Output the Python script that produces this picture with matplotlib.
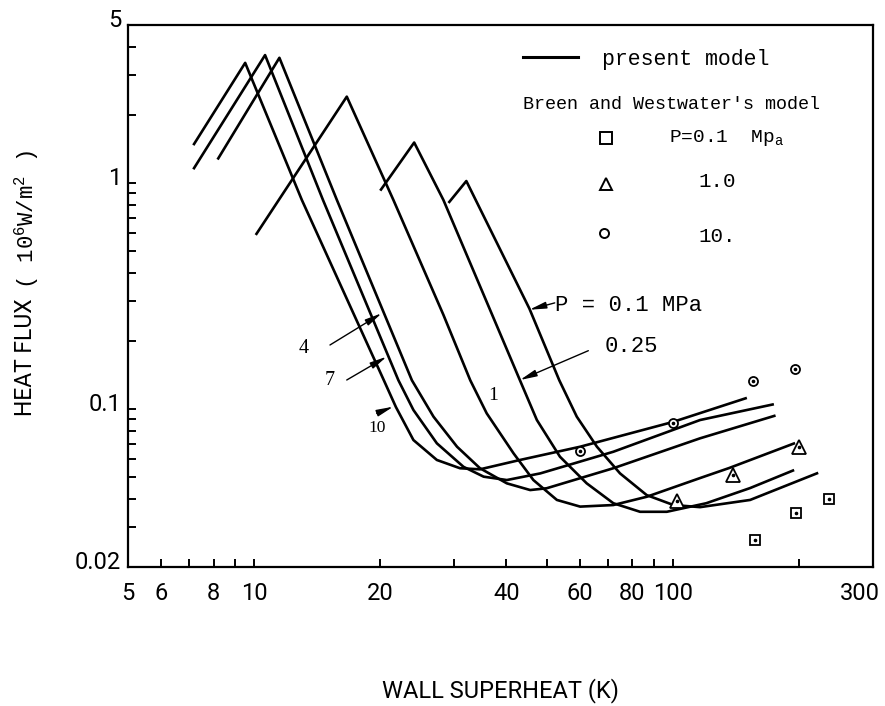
import matplotlib
matplotlib.use("Agg")
import matplotlib.pyplot as plt
from matplotlib.ticker import FixedLocator, FixedFormatter, NullFormatter
from matplotlib.transforms import ScaledTranslation

plt.rcParams['mathtext.fontset'] = 'custom'
plt.rcParams['mathtext.rm'] = 'Liberation Mono'
plt.rcParams['mathtext.it'] = 'Liberation Mono'
plt.rcParams['mathtext.bf'] = 'Liberation Mono'

SANS = ['Roboto', 'DejaVu Sans']
MONO = ['Liberation Mono', 'DejaVu Sans Mono']
SERIF = ['Liberation Serif', 'DejaVu Serif']

# ---------------- data ----------------
# present model, wall superheat (K) vs heat flux (10^6 W/m^2)
p10_x = [7.16, 9.52, 13.0, 20.4, 21.8, 24.0, 27.3, 31.0, 34.6, 43.1, 60.0, 99.8, 150]
p10_y = [1.47, 3.40, 0.841, 0.134, 0.102, 0.0729, 0.0595, 0.0547, 0.0541, 0.0595, 0.0681, 0.0876, 0.112]

p7_x = [7.16, 10.62, 14.6, 22.1, 24.0, 27.3, 31.6, 35.3, 40.1, 48.2, 72.0, 116, 174]
p7_y = [1.15, 3.68, 0.841, 0.134, 0.099, 0.0705, 0.0555, 0.0502, 0.0485, 0.0519, 0.0647, 0.0894, 0.105]

p4_x = [8.18, 11.49, 15.76, 23.8, 26.8, 30.5, 34.6, 40.1, 45.6, 49.9, 72.0, 116, 175.6]
p4_y = [1.27, 3.58, 0.841, 0.134, 0.0925, 0.0681, 0.0547, 0.0469, 0.0438, 0.0446, 0.0547, 0.0742, 0.0936]

p1_x = [10.09, 16.64, 21.5, 28.3, 32.8, 35.9, 41.6, 46.4, 52.8, 60.0, 72.0, 86.5, 116, 136, 195.5]
p1_y = [0.589, 2.41, 0.841, 0.261, 0.134, 0.0957, 0.0637, 0.0485, 0.0396, 0.0370, 0.0376, 0.0409, 0.0495, 0.0548, 0.0707]

p025_x = [20.0, 24.1, 28.3, 37.0, 43.1, 47.3, 53.7, 62.2, 72.0, 83.4, 96.6, 120, 152.7, 194.5]
p025_y = [0.925, 1.51, 0.841, 0.261, 0.134, 0.0894, 0.0615, 0.0469, 0.0383, 0.0351, 0.0351, 0.0383, 0.0447, 0.0537]

p01_x = [29.1, 32.1, 45.4, 53.5, 58.9, 65.8, 74.7, 86.5, 100.2, 116, 152.7, 222]
p01_y = [0.816, 1.02, 0.278, 0.134, 0.0925, 0.0681, 0.0519, 0.0416, 0.0376, 0.0368, 0.0396, 0.0522]

# Breen and Westwater's model
bw01_x = [157, 197, 236]
bw01_y = [0.0263, 0.0346, 0.040]
bw1_x = [102, 139, 200]
bw1_y = [0.039, 0.051, 0.068]
bw10_x = [60, 100, 155, 195]
bw10_y = [0.065, 0.087, 0.133, 0.150]

x_major = [5, 6, 8, 10, 20, 40, 60, 80, 100, 300]
x_major_labels = ['5', '6', '8', '10', '20', '40', '60', '80', '100', '300']
x_minor = [7, 9, 30, 50, 70, 90, 200]
y_major = [0.02, 0.1, 1, 5]
y_major_labels = ['0.02', '0.1', '1', '5']
y_minor = [0.03, 0.04, 0.05, 0.06, 0.07, 0.08, 0.09,
           0.2, 0.3, 0.4, 0.5, 0.6, 0.7, 0.8, 0.9, 2, 3, 4]

# ---------------- figure ----------------
W, H = 885, 706
fig = plt.figure(figsize=(W / 100, H / 100), dpi=100)
ax = fig.add_axes([128 / W, 1 - 567 / H, 745 / W, 542 / H])
ax.set_xscale('log')
ax.set_yscale('log')

curves = [(p10_x, p10_y), (p7_x, p7_y), (p4_x, p4_y),
          (p1_x, p1_y), (p025_x, p025_y), (p01_x, p01_y)]
for cx, cy in curves:
    ax.plot(cx, cy, color='black', lw=1.9, solid_joinstyle='round',
            solid_capstyle='butt')

mk = dict(linestyle='none', markerfacecolor='white', markeredgecolor='black',
          markeredgewidth=1.3)
ax.plot(bw01_x, bw01_y, marker='s', markersize=7.5, **mk)
ax.plot(bw1_x, bw1_y, marker='^', markersize=10, **mk)
ax.plot(bw10_x, bw10_y, marker='o', markersize=6.5, **mk)
for px, py in [(bw01_x, bw01_y), (bw1_x, bw1_y), (bw10_x, bw10_y)]:
    ax.plot(px, py, linestyle='none', marker='o', markersize=1.6, color='black')

ax.set_xlim(5, 300)
ax.set_ylim(0.02, 5)

# ticks
ax.xaxis.set_major_locator(FixedLocator(x_major))
ax.xaxis.set_major_formatter(FixedFormatter(x_major_labels))
ax.xaxis.set_minor_locator(FixedLocator(x_minor))
ax.xaxis.set_minor_formatter(NullFormatter())
ax.yaxis.set_major_locator(FixedLocator(y_major))
ax.yaxis.set_major_formatter(FixedFormatter(y_major_labels))
ax.yaxis.set_minor_locator(FixedLocator(y_minor))
ax.yaxis.set_minor_formatter(NullFormatter())
ax.tick_params(which='both', direction='in', top=False, right=False,
               length=6, width=1.4, color='black')
ax.tick_params(axis='x', which='major', pad=11)
ax.tick_params(axis='y', which='major', pad=5)
for lab in ax.get_xticklabels() + ax.get_yticklabels():
    lab.set_family(SANS)
    lab.set_fontsize(17)
for lab in ax.get_yticklabels():
    lab.set_transform(lab.get_transform() +
                      ScaledTranslation(0, 7 / 100, fig.dpi_scale_trans))
xl = ax.get_xticklabels()
xl[-1].set_transform(xl[-1].get_transform() +
                     ScaledTranslation(-13 / 100, 0, fig.dpi_scale_trans))

for s in ax.spines.values():
    s.set_linewidth(1.6)

# axis titles
fig.text(501 / W, 1 - 691 / H, 'WALL SUPERHEAT (K)', ha='center', va='center',
         fontsize=17, family=SANS)
fig.text(26 / W, 1 - 357 / H, 'HEAT FLUX', ha='center', va='center',
         rotation=90, fontsize=16.5, family=SANS)
fig.text(27 / W, 1 - 220 / H, '( 10$^{6}$W/m$^{2}$ )', ha='center', va='center',
         rotation=90, fontsize=16, family=MONO)

# legend (drawn by hand, as in the reference)
T = ax.transAxes
ax.plot([0.5298, 0.6044], [0.9416, 0.9416], transform=T, color='black', lw=2.2)
ax.text(0.6361, 0.9268, 'present model', transform=T, family=MONO,
        fontsize=15.5, va='baseline', ha='left')
ax.text(0.5298, 0.8441, "Breen and Westwater's model", transform=T,
        family=MONO, fontsize=13.2, va='baseline', ha='left')
lk = dict(transform=T, linestyle='none', markerfacecolor='white',
          markeredgecolor='black', markeredgewidth=1.4)
ax.plot([0.6416], [0.7911], marker='s', markersize=8, **lk)
ax.plot([0.6416], [0.7072], marker='^', markersize=9, **lk)
ax.plot([0.6384], [0.6170], marker='o', markersize=6.5, **lk)
ax.text(0.7262, 0.7849, 'P=0.1  Mp$_{a}$', transform=T, family=MONO,
        fontsize=14, va='baseline', ha='left')
ax.text(0.7651, 0.7011, '1.0', transform=T, family=MONO,
        fontsize=15, va='baseline', ha='left')
ax.text(0.7651, 0.5996, '10.', transform=T, family=MONO,
        fontsize=15, va='baseline', ha='left')

# curve annotations
arrow = dict(arrowstyle='-|>,head_length=0.5,head_width=0.1', lw=1.0,
             color='black', shrinkA=0, shrinkB=0, mutation_scale=20)
ax.text(0.5728, 0.4718, 'P = 0.1 MPa', transform=T, family=MONO,
        fontsize=16, va='baseline', ha='left')
ax.annotate('', xy=(0.5388, 0.4747), xytext=(0.5728, 0.4873),
            xycoords='axes fraction', arrowprops=arrow)
ax.text(0.6403, 0.3971, '0.25', transform=T, family=MONO,
        fontsize=16, va='baseline', ha='left')
ax.annotate('', xy=(0.5262, 0.3450), xytext=(0.6179, 0.3991),
            xycoords='axes fraction', arrowprops=arrow)
ax.text(0.2360, 0.3943, '4', transform=T, family=SERIF,
        fontsize=14.5, va='baseline', ha='center')
ax.annotate('', xy=(0.3405, 0.4681), xytext=(0.2711, 0.4096),
            xycoords='axes fraction', arrowprops=arrow)
ax.text(0.2711, 0.3358, '7', transform=T, family=SERIF,
        fontsize=14.5, va='baseline', ha='center')
ax.annotate('', xy=(0.3472, 0.3880), xytext=(0.2936, 0.3450),
            xycoords='axes fraction', arrowprops=arrow)
ax.text(0.3349, 0.2496, '10', transform=T, family=SERIF,
        fontsize=12.5, va='baseline', ha='center')
ax.annotate('', xy=(0.3561, 0.2958), xytext=(0.3338, 0.2836),
            xycoords='axes fraction', arrowprops=arrow)
ax.text(0.4902, 0.3089, '1', transform=T, family=SERIF,
        fontsize=14, va='baseline', ha='center')

ax.set_xlim(5, 300)
ax.set_ylim(0.02, 5)

fig.savefig('out.png', dpi=100)
